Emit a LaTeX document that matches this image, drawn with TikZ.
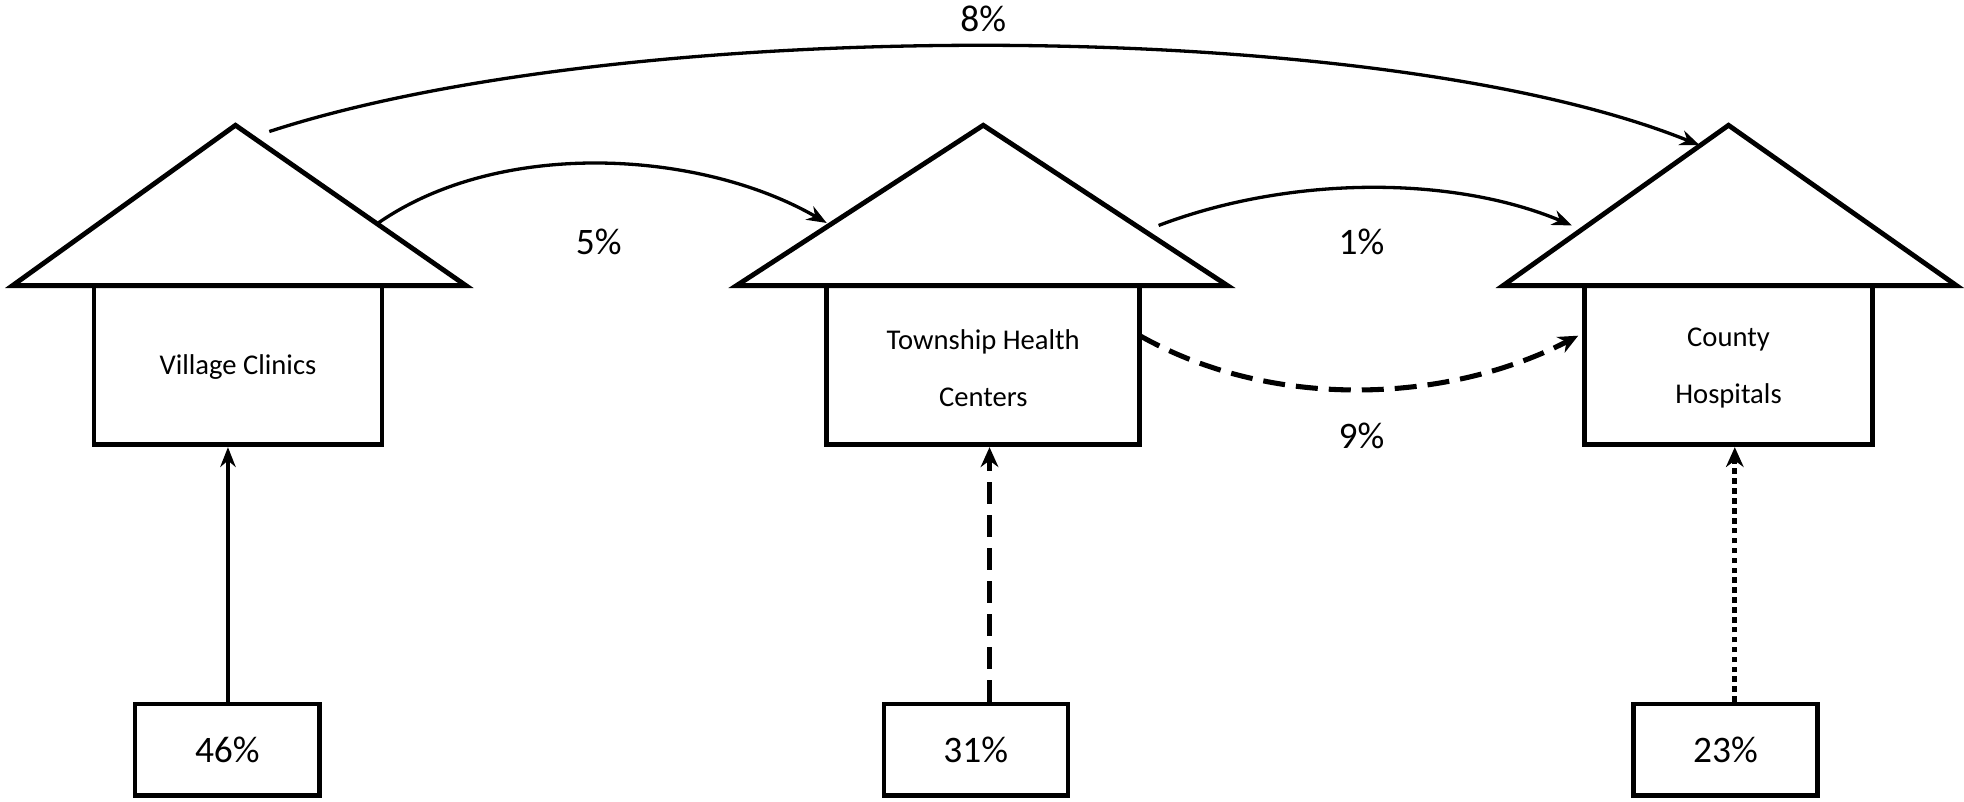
\documentclass[tikz,border=0pt]{standalone}
\usepackage{fontspec}
\setmainfont{Carlito}
\usetikzlibrary{arrows.meta}
\begin{document}
\begin{tikzpicture}[x=0.02cm,y=-0.02cm,
  house/.style={line width=2.2pt,line join=miter},
  pct/.style={draw,line width=2pt,minimum width=2.94cm,minimum height=1.46cm,font=\fontsize{17}{20}\selectfont},
  lbl/.style={font=\fontsize{13}{16}\selectfont,align=center},
  big/.style={font=\fontsize{17}{20}\selectfont},
  arr/.style={line width=1.5pt,-{Stealth[length=9pt,width=7pt]}},
  thickarr/.style={line width=2.3pt,-{Stealth[length=9pt,width=8pt]}}]
\useasboundingbox (0,0) rectangle (1568,640);
% houses
\draw[house] (10,228) -- (188,100) -- (372,228) -- cycle;
\draw[house] (75,228) rectangle (305,355);
\draw[house] (588,228) -- (785,100) -- (980,228) -- cycle;
\draw[house] (660,228) rectangle (910,355);
\draw[house] (1200,228) -- (1380,100) -- (1562,228) -- cycle;
\draw[house] (1265,228) rectangle (1495,355);
\node[lbl] (vc) at (190,293) {Village Clinics};
\node[lbl] (th) at (785,294) {Township Health\\[10pt]Centers};
\node[lbl] (ch) at (1380,294) {County\\[10pt]Hospitals};
% anchor coordinates
\coordinate (vcb) at (182,357);
\coordinate (thb) at (790,357);
\coordinate (chb) at (1385,357);
\coordinate (a8s) at (215,105); \coordinate (a8e) at (1357,116);
\coordinate (a5s) at (302,178); \coordinate (a5e) at (660,178);
\coordinate (a1s) at (925,180); \coordinate (a1e) at (1255,180);
\coordinate (a9s) at (910,268); \coordinate (a9e) at (1260,268);
% bottom boxes
\node[pct] (p1) at (181.5,598.5) {46\%};
\node[pct] (p2) at (779,598.5) {31\%};
\node[pct] (p3) at (1377.5,598.5) {23\%};
% vertical arrows
\draw[arr,line width=2pt] (p1.north -| vcb) -- (vcb);
\draw[thickarr,dash pattern=on 10pt off 5pt] (p2.north -| thb) -- (thb);
\draw[thickarr,dash pattern=on 2.5pt off 2pt] (p3.north -| chb) -- (chb);
% curved arrows
\draw[arr] (a8s) .. controls (500,12) and (1100,12) .. (a8e);
\draw[arr] (a5s) .. controls (400,110) and (560,120) .. (a5e);
\draw[arr] (a1s) .. controls (1030,140) and (1160,140) .. (a1e);
\draw[thickarr,dash pattern=on 10pt off 5pt] (a9s) .. controls (1020,330) and (1160,320) .. (a9e);
\node[big] (l8) at (785,15) {8\%};
\node[big] (l5) at (478,193) {5\%};
\node[big] (l1) at (1087,193) {1\%};
\node[big] (l9) at (1087,348) {9\%};
\end{tikzpicture}
\end{document}
